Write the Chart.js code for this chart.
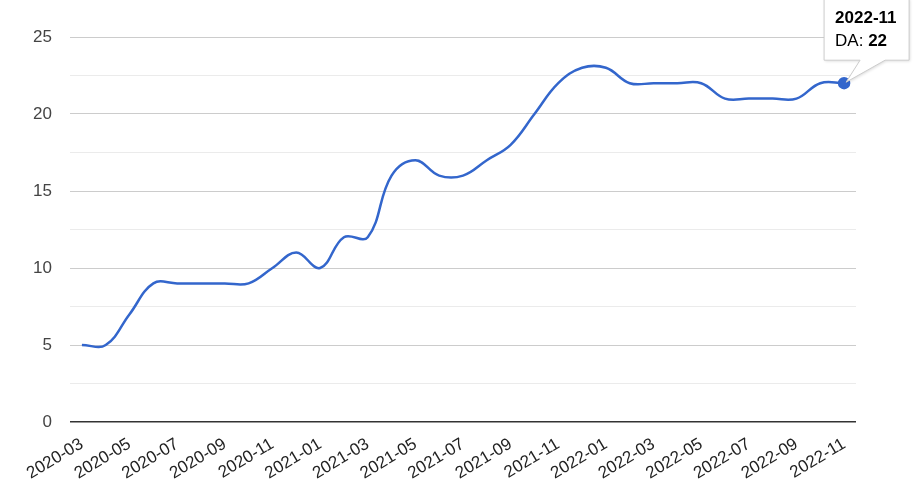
<!DOCTYPE html>
<html>
<head>
<meta charset="utf-8">
<script src="https://cdn.jsdelivr.net/npm/chart.js@4"></script>
<style>
  html, body { margin: 0; padding: 0; background: #fff; }
  #wrap { width: 916px; height: 490px; }
</style>
</head>
<body>
<div id="wrap"><canvas id="daChart"></canvas></div>
<script>
// monthly labels and DA values
const months = ['2020-03','2020-04','2020-05','2020-06','2020-07','2020-08','2020-09','2020-10','2020-11','2020-12',
                '2021-01','2021-02','2021-03','2021-04','2021-05','2021-06','2021-07','2021-08','2021-09','2021-10','2021-11','2021-12',
                '2022-01','2022-02','2022-03','2022-04','2022-05','2022-06','2022-07','2022-08','2022-09','2022-10','2022-11'];
const daValues = [5, 5, 7, 9, 9, 9, 9, 9, 10, 11,
                  10, 12, 12, 16, 17, 16, 16, 17, 18, 20, 22, 23,
                  23, 22, 22, 22, 22, 21, 21, 21, 21, 22, 22];
const yTicks = [0, 5, 10, 15, 20, 25];

const FONT = "'Liberation Sans', Arial, sans-serif";
const lastIdx = daValues.length - 1;

// Google-style callout tooltip on the last point
const calloutPlugin = {
    id: 'callout',
    afterDatasetsDraw(chart) {
        const pt = chart.getDatasetMeta(0).data[lastIdx];
        const ctx = chart.ctx;
        const left = pt.x - 20, right = pt.x + 65;
        const top = pt.y - 85, bottom = pt.y - 23;
        ctx.save();
        ctx.shadowColor = 'rgba(0,0,0,0.15)';
        ctx.shadowBlur = 3;
        ctx.shadowOffsetX = 1;
        ctx.shadowOffsetY = 1;
        ctx.beginPath();
        ctx.moveTo(left, top);
        ctx.lineTo(right, top);
        ctx.lineTo(right, bottom);
        ctx.lineTo(pt.x + 41, bottom);
        ctx.lineTo(pt.x + 2, pt.y - 1);
        ctx.lineTo(pt.x + 16, bottom);
        ctx.lineTo(left, bottom);
        ctx.closePath();
        ctx.fillStyle = '#fff';
        ctx.fill();
        ctx.shadowColor = 'transparent';
        ctx.strokeStyle = '#ccc';
        ctx.lineWidth = 1;
        ctx.stroke();

        ctx.fillStyle = '#000';
        ctx.textBaseline = 'alphabetic';
        ctx.textAlign = 'left';
        ctx.font = 'bold 17px ' + FONT;
        ctx.fillText(months[lastIdx], left + 11, top + 25);
        ctx.font = '17px ' + FONT;
        const lbl = 'DA: ';
        ctx.fillText(lbl, left + 11, top + 48);
        const w = ctx.measureText(lbl).width;
        ctx.font = 'bold 17px ' + FONT;
        ctx.fillText(String(daValues[lastIdx]), left + 11 + w, top + 48);
        ctx.restore();
    }
};

const daCtx = document.getElementById('daChart').getContext('2d');
const daChart = new Chart(daCtx, {
    type: 'line',
    data: {
        labels: months,
        datasets: [{
            label: 'DA',
            data: daValues,
            borderColor: '#3366cc',
            backgroundColor: '#3366cc',
            borderWidth: 2.5,
            tension: 0.4,
            fill: false,
            pointRadius: ctx => ctx.dataIndex === lastIdx ? 5 : 0,
            pointHoverRadius: 0
        }]
    },
    options: {
        responsive: true,
        maintainAspectRatio: false,
        animation: false,
        events: [],
        layout: { padding: { left: 0, right: 60, top: 37, bottom: 0 } },
        plugins: {
            legend: { display: false },
            tooltip: { enabled: false }
        },
        scales: {
            x: {
                type: 'category',
                offset: true,
                grid: { display: false, drawTicks: false },
                border: { display: false },
                afterFit: scale => { scale.height = 68; },
                ticks: {
                    autoSkip: false,
                    minRotation: 31,
                    maxRotation: 31,
                    padding: 12,
                    color: '#222',
                    font: { family: FONT, size: 17 },
                    callback: function(val, i) { return i % 2 === 0 ? months[i] : ''; }
                }
            },
            y: {
                min: 0,
                max: yTicks[yTicks.length - 1],
                afterFit: scale => { scale.width = 70; },
                border: { display: false },
                grid: {
                    drawTicks: false,
                    color: ctx => ctx.tick.value === 0 ? '#333' : (yTicks.includes(ctx.tick.value) ? '#ccc' : '#ebebeb'),
                    lineWidth: ctx => ctx.tick.value === 0 ? 1.5 : 1
                },
                ticks: {
                    stepSize: 2.5,
                    padding: 18,
                    color: '#444',
                    font: { family: FONT, size: 17 },
                    callback: v => yTicks.includes(v) ? String(v) : ''
                }
            }
        }
    },
    plugins: [calloutPlugin]
});
</script>
</body>
</html>
